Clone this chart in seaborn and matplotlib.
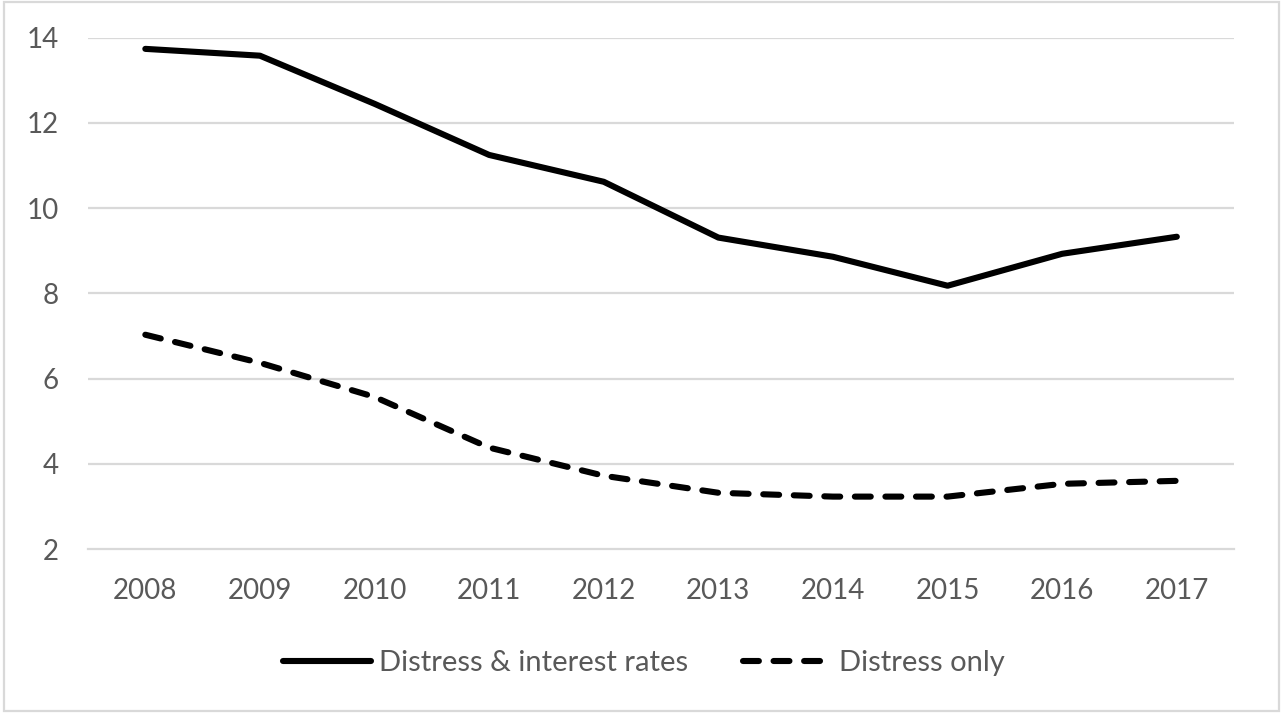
import matplotlib
matplotlib.use("Agg")
import matplotlib.pyplot as plt
import matplotlib.patches as mpatches
import seaborn as sns
import pandas as pd
import numpy as np

years = ["2008", "2009", "2010", "2011", "2012", "2013", "2014", "2015", "2016", "2017"]
distress_interest = [13.74, 13.58, 12.45, 11.25, 10.62, 9.31, 8.86, 8.18, 8.93, 9.33]
distress_only = [7.03, 6.37, 5.57, 4.38, 3.72, 3.32, 3.23, 3.23, 3.53, 3.60]
series_names = ["Distress & interest rates", "Distress only"]
y_ticks = [2, 4, 6, 8, 10, 12, 14]

df = pd.DataFrame({
    "year": years * 2,
    "value": distress_interest + distress_only,
    "series": [series_names[0]] * len(years) + [series_names[1]] * len(years),
})

sns.set_theme(style="white")
plt.rcParams["font.family"] = ["Lato", "DejaVu Sans"]

fig = plt.figure(figsize=(12.83, 7.13), dpi=100)
ax = fig.add_axes([0.0686, 0.23, 0.8933, 0.717])

grid_c = "#d9d9d9"
text_c = "#595959"
lw = 4.4

sns.lineplot(
    data=df, x="year", y="value", hue="series", style="series",
    palette=["black", "black"],
    dashes={series_names[0]: "", series_names[1]: (2.6, 2.4)},
    linewidth=lw, ax=ax, legend=False, sort=False,
)
for line in ax.get_lines():
    line.set_solid_capstyle("round")
    line.set_dash_capstyle("round")
    line.set_solid_joinstyle("round")

ax.set_ylim(2, 14)
ax.set_xlim(-0.5, len(years) - 0.5)
ax.set_yticks(y_ticks)
ax.set_yticklabels([str(v) for v in y_ticks])
ax.set_xticks(range(len(years)))
ax.set_xticklabels(years)
ax.set_xticks(np.arange(-0.5, len(years), 1.0), minor=True)

for v in y_ticks[1:]:
    ax.axhline(v, color=grid_c, linewidth=1.6, zorder=0)

for s in ["left", "right", "top"]:
    ax.spines[s].set_visible(False)
ax.spines["bottom"].set_color(grid_c)
ax.spines["bottom"].set_linewidth(1.6)

ax.tick_params(axis="x", which="major", length=0, pad=21, labelsize=20, labelcolor=text_c)
ax.tick_params(axis="x", which="minor", length=5, width=1.4, color=grid_c, direction="out")
ax.tick_params(axis="y", which="major", length=0, pad=21, labelsize=20, labelcolor=text_c)
ax.set_xlabel("")
ax.set_ylabel("")

handles = [
    plt.Line2D([], [], color="black", linewidth=lw, solid_capstyle="round"),
    plt.Line2D([], [], color="black", linewidth=lw, dashes=(2.6, 2.4), dash_capstyle="round"),
]
fig.legend(
    handles, series_names, loc="center", bbox_to_anchor=(0.502, 0.07),
    ncol=2, frameon=False, fontsize=21, labelcolor=text_c,
    handlelength=3.0, handletextpad=0.28, columnspacing=1.9,
)

fig.patches.append(mpatches.Rectangle(
    (0.003, 0.003), 0.994, 0.994, transform=fig.transFigure,
    fill=False, edgecolor=grid_c, linewidth=1.6,
))

fig.savefig("out.png", dpi=100, facecolor="white")
